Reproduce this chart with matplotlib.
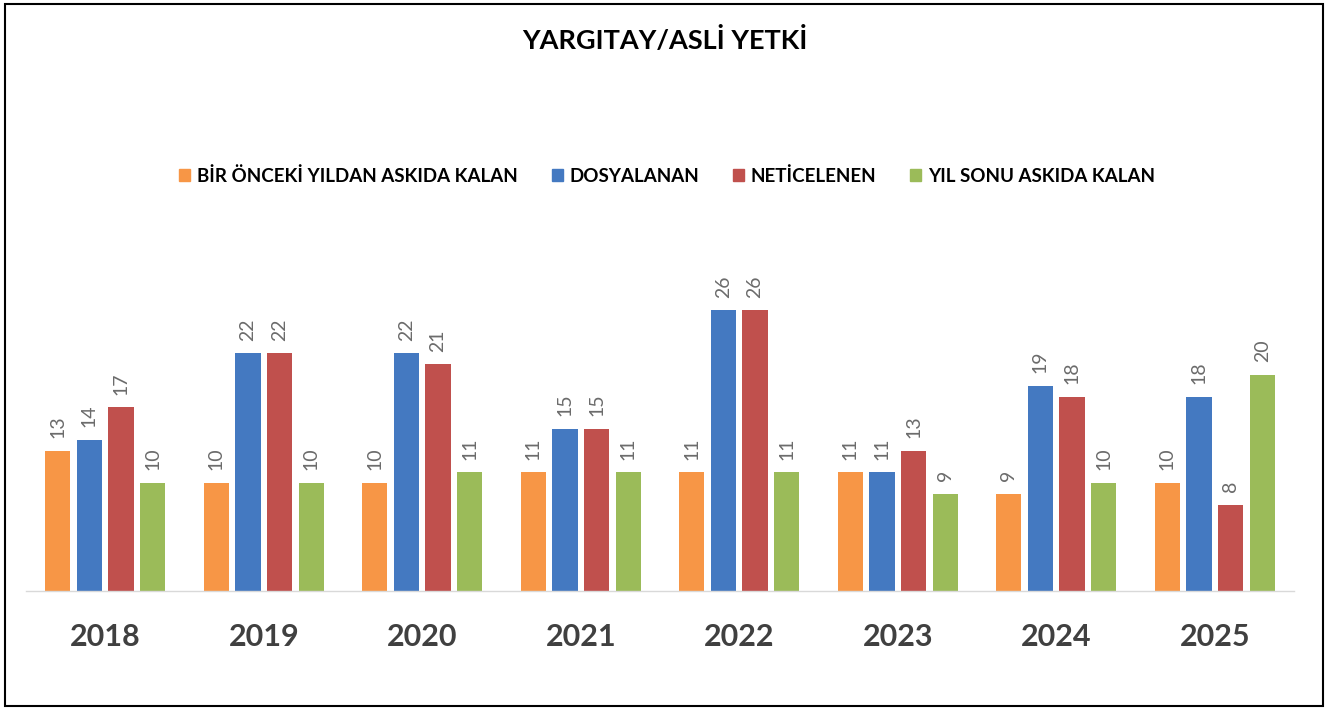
import numpy as np
import matplotlib.pyplot as plt
from matplotlib.patches import Rectangle, Patch

years = ['2018', '2019', '2020', '2021', '2022', '2023', '2024', '2025']
onceki = [13, 10, 10, 11, 11, 11, 9, 10]
dosyalanan = [14, 22, 22, 15, 26, 11, 19, 18]
neticelenen = [17, 22, 21, 15, 26, 13, 18, 8]
yil_sonu = [10, 10, 11, 11, 11, 9, 10, 20]

series = [
    ('BİR ÖNCEKİ YILDAN ASKIDA KALAN', onceki, '#F79646'),
    ('DOSYALANAN', dosyalanan, '#4479C1'),
    ('NETİCELENEN', neticelenen, '#C0504D'),
    ('YIL SONU ASKIDA KALAN', yil_sonu, '#9BBB59'),
]

font = ['Lato', 'DejaVu Sans']
plt.rcParams['font.family'] = font

fig = plt.figure(figsize=(13.34, 7.09), dpi=100)
ax = fig.add_axes([26 / 1334, 1 - 591 / 709, 1268 / 1334, 351 / 709])

x = np.arange(len(years))
width = 0.16
step = 0.2
for i, (name, vals, color) in enumerate(series):
    pos = x + (i - 1.5) * step
    bars = ax.bar(pos, vals, width=width, color=color, label=name)
    for b, v in zip(bars, vals):
        ax.annotate(str(v), (b.get_x() + b.get_width() / 2, v), xytext=(0, 9),
                    textcoords='offset points', rotation=90, ha='center', va='bottom',
                    fontsize=14, color='#6b6b6b')

ax.set_xlim(-0.5, len(years) - 0.5)
ax.set_ylim(0, 32.5)
ax.set_yticks([])
ax.set_xticks(x)
ax.set_xticklabels(years, fontsize=22, fontweight='bold', color='#404040')
ax.tick_params(axis='x', length=0, pad=23)
for s in ['top', 'right', 'left']:
    ax.spines[s].set_visible(False)
ax.spines['bottom'].set_color('#D9D9D9')
ax.spines['bottom'].set_linewidth(1)

fig.text(0.4985, 1 - 40 / 709, 'YARGITAY/ASLİ YETKİ', ha='center', va='center',
         fontsize=19.5, fontweight='bold', color='black')

handles = [Patch(color=c, label=n) for n, v, c in series]
fig.legend(handles=handles, loc='center', bbox_to_anchor=(0.5, 1 - 176 / 709), ncol=4,
           frameon=False, handlelength=0.6, handleheight=0.6, handletextpad=0.35,
           columnspacing=1.8, prop={'size': 13.5, 'weight': 'bold'})

fig.patches.append(Rectangle((5 / 1334, 3 / 709), 1318 / 1334, 702 / 709, transform=fig.transFigure,
                             fill=False, edgecolor='black', linewidth=1.5))

fig.savefig('out.png', dpi=100)
